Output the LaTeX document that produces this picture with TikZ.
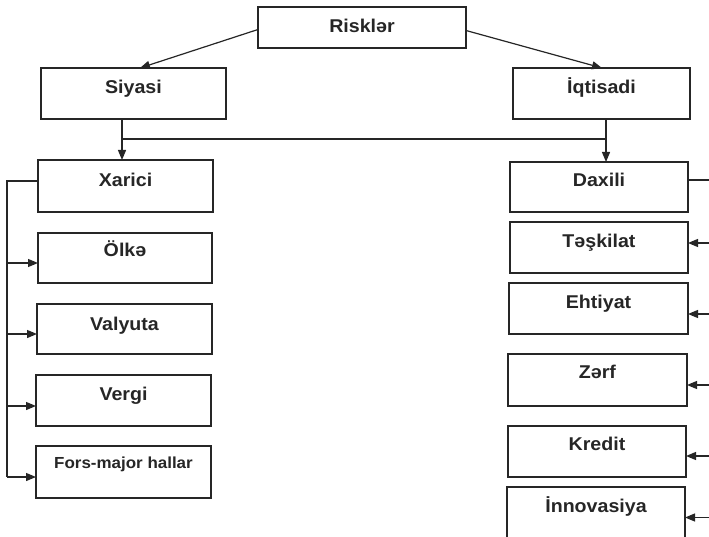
\documentclass[tikz,border=0pt]{standalone}
\usepackage{fontspec}
\setmainfont{Liberation Sans}[FakeStretch=1.06]
\usetikzlibrary{arrows.meta}
\definecolor{ink}{HTML}{262626}
\begin{document}
\begin{tikzpicture}[x=1pt,y=-1pt,
  box/.style={draw=ink, line width=1.5pt, anchor=north west, inner xsep=0pt, inner ysep=0pt,
    outer sep=0pt, text=ink, font=\fontsize{18.5}{20}\selectfont\bfseries,
    text height=25pt, text depth=25pt},
  link/.style={draw=ink, line width=1.2pt},
  arr/.style={link, -{Triangle[length=10pt,width=8pt]}}]
\useasboundingbox (0,0) rectangle (709,537);
\clip (0,0) rectangle (709,537);
\fill[white] (0,0) rectangle (709,537);

% top levels
\node[box, minimum width=208pt, text height=26pt, text depth=15pt] (risk) at (258,7) {Risklər};
\node[box, minimum width=185pt, text height=26pt, text depth=25pt] (siy) at (41,68) {Siyasi};
\node[box, minimum width=177pt, text height=26pt, text depth=25pt] (iqt) at (513,68) {İqtisadi};

% left column
\node[box, minimum width=175pt, text height=27pt] (xar) at (38,160) {Xarici};
\node[box, minimum width=174pt, text height=24pt, text depth=26pt] (olke) at (38,233) {Ölkə};
\node[box, minimum width=175pt, text height=26pt, text depth=24pt] (val) at (37,304) {Valyuta};
\node[box, minimum width=175pt, text depth=26pt] (verg) at (36,375) {Vergi};
\node[box, minimum width=175pt, text height=22pt, text depth=30pt, font=\fontsize{16}{18}\selectfont\bfseries] (fors) at (36,446) {Fors-major hallar};

% right column
\node[box, minimum width=178pt] (dax) at (510,162) {Daxili};
\node[box, minimum width=178pt, text height=26pt] (tesk) at (510,222) {Təşkilat};
\node[box, minimum width=179pt, text depth=26pt] (eht) at (509,283) {Ehtiyat};
\node[box, minimum width=179pt, text height=24pt, text depth=28pt] (zerf) at (508,354) {Zərf};
\node[box, minimum width=178pt, text height=24pt, text depth=27pt] (kred) at (508,426) {Kredit};
\node[box, minimum width=178pt, text height=25pt, text depth=28pt] (innov) at (507,487) {İnnovasiya};

% connectors from the root
\draw[arr] ([yshift=-2pt]risk.west) -- ([xshift=6.5pt]siy.north);
\draw[arr] ([yshift=-3pt]risk.east) -- ([xshift=0.5pt]iqt.north);

% second level down to the third
\coordinate (jl) at ([xshift=-11.5pt]siy.south |- 0,139);
\coordinate (jr) at ([xshift=4.5pt]iqt.south |- 0,139);
\draw[arr] ([xshift=-11.5pt]siy.south) -- ([xshift=-3.5pt]xar.north);
\draw[arr] ([xshift=4.5pt]iqt.south) -- ([xshift=7pt]dax.north);
\draw[link] (jl) -- (jr);

% left trunk
\coordinate (lt) at (7,181);
\coordinate (lb) at (7,477);
\draw[link] ([yshift=5pt]xar.west) -- (lt) -- (lb);
\foreach \n/\d in {olke/-5, val/-5, verg/-5.5, fors/-5}
  \draw[arr] ([yshift=\d pt]\n.west -| lt) -- ([yshift=\d pt]\n.west);

% right trunk
\coordinate (rt) at (714,180);
\coordinate (rb) at (714,537);
\draw[link] ([yshift=7pt]dax.east) -- (rt) -- (rb);
\foreach \n/\d in {tesk/4.5, eht/-5.5, zerf/-5, kred/-4.5, innov/-4}
  \draw[arr] ([yshift=\d pt]\n.east -| rt) -- ([yshift=\d pt]\n.east);
\end{tikzpicture}
\end{document}
